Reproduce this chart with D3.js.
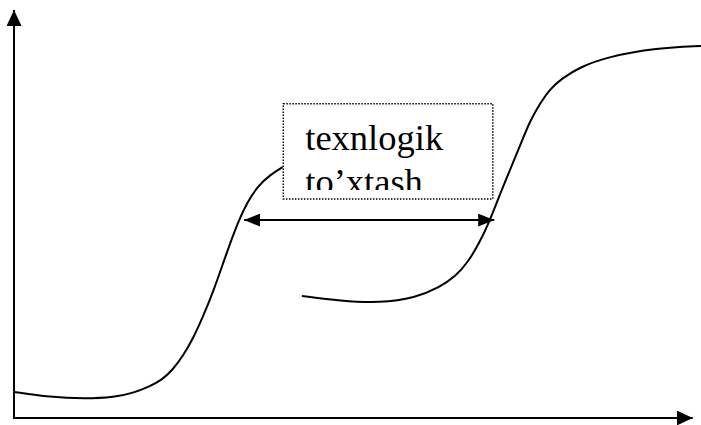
<!DOCTYPE html>
<html>
<head>
<meta charset="utf-8">
<script src="https://cdn.jsdelivr.net/npm/d3@7"></script>
<style>
    html, body { margin: 0; padding: 0; background: #fff; }
    svg { display: block; }
</style>
</head>
<body>
<div id="chart"></div>
<script>
// S-curve (technology gap) sketch, values in arbitrary 0-100 units

const curve1X = [0, 5.2, 10.3, 14.7, 17.3, 19.8, 21.5, 23.1, 24.6, 26.1, 27.5, 29.0, 31.0, 32.6, 33.9, 35.5, 37.3, 39.1];
const curve1Y = [6.4, 5.1, 4.7, 5.1, 6.1, 7.8, 9.3, 11.8, 15.2, 19.6, 24.8, 30.9, 40.7, 48.0, 52.7, 56.9, 59.6, 61.5];

const curve2X = [41.9, 47.5, 53.3, 58.4, 62.0, 64.2, 66.1, 67.8, 69.3, 70.7, 72.2, 73.7, 75.1, 76.6, 78.0, 79.8, 82.4, 86.3, 93.6, 100];
const curve2Y = [29.9, 28.7, 28.2, 29.4, 32.1, 34.6, 38.2, 43.1, 48.5, 54.7, 60.8, 66.9, 72.8, 77.2, 80.6, 83.3, 86.0, 88.5, 90.7, 91.2];

// gap between the two curves
const gapX = [33.5, 69.9];
const gapY = 48.5;

const labelLines = ['texnlogik', 'to\u2019xtash'];

const width = 701;
const height = 425;

const x = d3.scaleLinear().domain([0, 100]).range([14, 701]);
const y = d3.scaleLinear().domain([0, 100]).range([418, 10]);

const svg = d3.select('#chart')
    .append('svg')
    .attr('width', width)
    .attr('height', height);

// arrow heads
const defs = svg.append('defs');
function addMarker(id, len, half) {
    defs.append('marker')
        .attr('id', id)
        .attr('markerUnits', 'userSpaceOnUse')
        .attr('viewBox', `0 ${-half} ${len} ${half * 2}`)
        .attr('refX', len)
        .attr('refY', 0)
        .attr('markerWidth', len)
        .attr('markerHeight', half * 2)
        .attr('orient', 'auto-start-reverse')
        .append('path')
        .attr('d', `M0,${-half}L${len},0L0,${half}Z`)
        .attr('fill', '#000');
}
addMarker('axis-head', 16, 7.5);
addMarker('gap-head', 16, 6.5);

// axes
svg.append('line')
    .attr('x1', x(0)).attr('y1', y(0))
    .attr('x2', x(0)).attr('y2', y(100))
    .attr('stroke', '#000')
    .attr('stroke-width', 2)
    .attr('marker-end', 'url(#axis-head)');

svg.append('line')
    .attr('x1', x(0) - 1).attr('y1', y(0))
    .attr('x2', x(98.8)).attr('y2', y(0))
    .attr('stroke', '#000')
    .attr('stroke-width', 2)
    .attr('marker-end', 'url(#axis-head)');

// curves
const line = d3.line()
    .x(d => x(d[0]))
    .y(d => y(d[1]))
    .curve(d3.curveBasis);

[[curve1X, curve1Y], [curve2X, curve2Y]].forEach(([xs, ys]) => {
    svg.append('path')
        .datum(d3.zip(xs, ys))
        .attr('d', line)
        .attr('fill', 'none')
        .attr('stroke', '#000')
        .attr('stroke-width', 2)
        .attr('stroke-linejoin', 'round');
});

// label box (dotted) with clipped text
const box = { x0: 39.2, x1: 69.7, y0: 53.7, y1: 77.0 };
svg.append('rect')
    .attr('x', x(box.x0))
    .attr('y', y(box.y1))
    .attr('width', x(box.x1) - x(box.x0))
    .attr('height', y(box.y0) - y(box.y1))
    .attr('fill', '#fff')
    .attr('stroke', '#000')
    .attr('stroke-width', 1.5)
    .attr('stroke-dasharray', '1.5,1.5');

defs.append('clipPath')
    .attr('id', 'label-clip')
    .append('rect')
    .attr('x', x(box.x0))
    .attr('y', y(box.y1))
    .attr('width', x(box.x1) - x(box.x0))
    .attr('height', y(55.9) - y(box.y1));

svg.append('g')
    .attr('clip-path', 'url(#label-clip)')
    .selectAll('text')
    .data(labelLines)
    .enter()
    .append('text')
    .attr('x', x(42.4))
    .attr('y', (d, i) => y(65.7) + i * 44)
    .attr('font-family', '"Liberation Serif", "Times New Roman", serif')
    .attr('font-size', '36.5px')
    .attr('fill', '#000')
    .text(d => d);

// double-headed gap arrow
svg.append('line')
    .attr('x1', x(gapX[0])).attr('y1', y(gapY))
    .attr('x2', x(gapX[1])).attr('y2', y(gapY))
    .attr('stroke', '#000')
    .attr('stroke-width', 2)
    .attr('marker-start', 'url(#gap-head)')
    .attr('marker-end', 'url(#gap-head)');
</script>
</body>
</html>
